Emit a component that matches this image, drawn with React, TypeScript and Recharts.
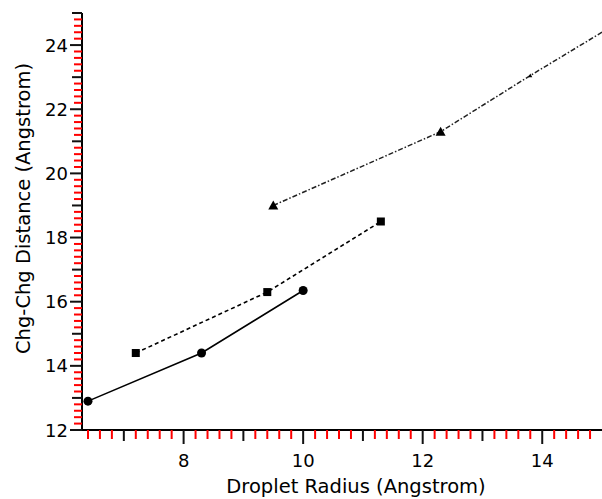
import { LineChart, Line, XAxis, YAxis } from 'recharts';

// droplet radius (r) vs charge-charge distance (d), both in Angstrom
const circleSeries = [
  { r: 6.4, d: 12.9 },
  { r: 8.3, d: 14.4 },
  { r: 10.0, d: 16.35 },
];

const squareSeries = [
  { r: 7.2, d: 14.4 },
  { r: 9.4, d: 16.3 },
  { r: 11.3, d: 18.5 },
];

const triangleSeries = [
  { r: 9.5, d: 19.0 },
  { r: 12.3, d: 21.3 },
  { r: 13.8, d: 23.05 },
  { r: 15.0, d: 24.4 },
];

const xMajor = [8, 10, 12, 14];
const yMajor = [12, 14, 16, 18, 20, 22, 24];

// minor ticks every 0.2
const xTicks = Array.from({ length: 43 }, (_, i) => Math.round((6.4 + i * 0.2) * 10) / 10);
const yTicks = Array.from({ length: 66 }, (_, i) => Math.round((12 + i * 0.2) * 10) / 10);

const FONT = '"DejaVu Sans", sans-serif';

function XTick(props: any) {
  const { x, y, payload } = props;
  const v = payload.value;
  const major = xMajor.includes(v);
  const mid = !major && Number.isInteger(v);
  const len = major ? 14 : mid ? 11 : 9;
  return (
    <g>
      <line x1={x} x2={x} y1={y} y2={y + len} stroke={major || mid ? '#111' : 'red'} strokeWidth={2} />
      <text x={x} y={y + 37} textAnchor="middle" fontSize={18} fill="#000">
        {major ? v : ''}
      </text>
    </g>
  );
}

function YTick(props: any) {
  const { x, y, payload } = props;
  const v = payload.value;
  const major = yMajor.includes(v);
  const mid = !major && Number.isInteger(v);
  const len = major ? 12 : mid ? 10 : 8;
  return (
    <g>
      <line x1={x} x2={x - len} y1={y} y2={y} stroke={major || mid ? '#111' : 'red'} strokeWidth={2} />
      <text x={x - 14} y={y + 6.5} textAnchor="end" fontSize={18} fill="#000">
        {major ? v : ''}
      </text>
    </g>
  );
}

function CircleDot(props: any) {
  const { cx, cy, index } = props;
  return <circle key={`c${index}`} cx={cx} cy={cy} r={4.5} fill="#000" />;
}

function SquareDot(props: any) {
  const { cx, cy, index } = props;
  return <rect key={`s${index}`} x={cx - 4} y={cy - 4} width={8} height={8} fill="#000" />;
}

function TriangleDot(props: any) {
  const { cx, cy, index } = props;
  if (index >= 3) return <g key={`t${index}`} />;
  const s = index === 2 ? 2 : 5;
  return (
    <polygon
      key={`t${index}`}
      points={`${cx - s},${cy + s * 0.8} ${cx + s},${cy + s * 0.8} ${cx},${cy - s}`}
      fill="#000"
    />
  );
}

function YLabel(props: any) {
  const vb = props.viewBox || { x: 0, y: 13, width: 82, height: 417 };
  const cx = vb.x + 23;
  const cy = vb.y + vb.height / 2 - 13;
  return (
    <text
      x={cx}
      y={cy}
      transform={`rotate(-90, ${cx}, ${cy})`}
      textAnchor="middle"
      dominantBaseline="central"
      fontSize={19.5}
      fill="#000"
    >
      Chg-Chg Distance (Angstrom)
    </text>
  );
}

export default function App() {
  return (
    <div style={{ position: 'absolute', left: 0, top: 0, background: '#fff' }}>
      <LineChart
        width={602}
        height={499}
        margin={{ top: 13, right: 0, bottom: 0, left: 0 }}
        style={{ fontFamily: FONT }}
      >
        <XAxis
          type="number"
          dataKey="r"
          domain={[6.3, 15]}
          ticks={xTicks}
          interval={0}
          height={69}
          tickSize={0}
          tickMargin={0}
          tickLine={false}
          tick={<XTick />}
          axisLine={{ stroke: '#000', strokeWidth: 2 }}
          allowDataOverflow
          label={{
            value: 'Droplet Radius (Angstrom)',
            position: 'insideBottom',
            offset: 6,
            dx: 14,
            fontSize: 19.5,
            fill: '#000',
          }}
        />
        <YAxis
          type="number"
          dataKey="d"
          domain={[12, 25]}
          ticks={yTicks}
          interval={0}
          width={82}
          tickSize={0}
          tickMargin={0}
          tickLine={false}
          tick={<YTick />}
          axisLine={{ stroke: '#000', strokeWidth: 2 }}
          allowDataOverflow
          label={<YLabel />}
        />
        <Line
          data={circleSeries}
          dataKey="d"
          stroke="#000"
          strokeWidth={1.6}
          dot={CircleDot}
          isAnimationActive={false}
        />
        <Line
          data={squareSeries}
          dataKey="d"
          stroke="#000"
          strokeWidth={1.6}
          strokeDasharray="4 3"
          dot={SquareDot}
          isAnimationActive={false}
        />
        <Line
          data={triangleSeries}
          dataKey="d"
          stroke="#222"
          strokeWidth={1.5}
          strokeDasharray="5 2 1.5 2"
          dot={TriangleDot}
          isAnimationActive={false}
        />
      </LineChart>
    </div>
  );
}
